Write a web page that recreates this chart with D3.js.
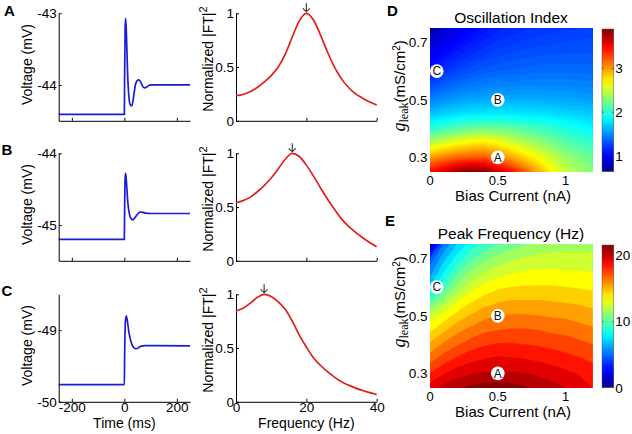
<!DOCTYPE html>
<html>
<head>
<meta charset="utf-8">
<script src="https://cdn.jsdelivr.net/npm/d3@7"></script>
<style>
  body { margin: 0; background: #fff; }
  text { font-family: "Liberation Sans", Arial, sans-serif; }
</style>
</head>
<body>
<svg id="fig" width="632" height="434"></svg>
<script>
// voltage traces (ms, mV)
const timeA = [-250, 0, 1, 3, 5, 8, 12, 17, 23, 29, 35, 42, 49, 55, 62, 70, 78, 88, 100, 250];
const voltA = [-44.41, -44.41, -43.9, -43.2, -43.07, -43.3, -43.8, -44.15, -44.28, -44.29, -44.17, -44.0, -43.94, -43.93, -43.96, -44.02, -44.04, -44.02, -44.0, -44.0];
const timeB = [-250, 0, 1, 3, 5, 8, 13, 20, 27, 33, 40, 50, 60, 67, 80, 100, 250];
const voltB = [-45.2, -45.2, -44.8, -44.35, -44.28, -44.4, -44.68, -44.86, -44.92, -44.93, -44.9, -44.85, -44.82, -44.82, -44.835, -44.84, -44.84];
const timeC = [-250, 0, 1, 4, 7, 11, 17, 25, 35, 46, 60, 80, 250];
const voltC = [-49.76, -49.76, -49.4, -48.88, -48.8, -48.86, -49.02, -49.16, -49.24, -49.26, -49.23, -49.215, -49.22];

const voltDomains = [[-44.5, -43], [-45.5, -44], [-50, -48.5]];
const voltTicks = [[-44, -43], [-45, -44], [-50, -49]];
const timeTicks = [-200, 0, 200];

// normalized power spectra
const freq = [0, 2, 4, 6, 8, 10, 12, 14, 16, 18, 20, 22, 24, 26, 28, 30, 32, 34, 36, 38, 40];
const powerA = [0.234, 0.245, 0.27, 0.31, 0.36, 0.42, 0.5, 0.62, 0.78, 0.93, 1.0, 0.94, 0.8, 0.64, 0.5, 0.39, 0.31, 0.25, 0.21, 0.175, 0.147];
const powerB = [0.54, 0.56, 0.59, 0.64, 0.7, 0.77, 0.855, 0.945, 1.0, 0.97, 0.89, 0.79, 0.68, 0.575, 0.48, 0.39, 0.32, 0.265, 0.215, 0.17, 0.13];
const powerC = [0.845, 0.87, 0.915, 0.97, 1.0, 0.98, 0.93, 0.86, 0.75, 0.62, 0.51, 0.41, 0.34, 0.28, 0.23, 0.186, 0.155, 0.127, 0.105, 0.085, 0.068];
const peakFreq = [20, 16, 8];
const freqTicks = [0, 20, 40];
const powerTicks = [0, 0.5, 1];

// parameter maps: rows go from gleak 0.25 (first) to 0.75 (last)
const biasGrid = [0, 0.1, 0.2, 0.3, 0.4, 0.5, 0.6, 0.7, 0.8, 0.9, 1.0, 1.1, 1.2];
const gleakGrid = [0.25, 0.3, 0.35, 0.4, 0.45, 0.5, 0.55, 0.6, 0.65, 0.7, 0.75];
const oscIndex = [
  [3.45, 3.62, 3.78, 3.9, 3.85, 3.66, 3.45, 3.2, 2.95, 2.7, 2.5, 2.38, 2.3],
  [3.0, 3.08, 3.15, 3.2, 3.2, 3.1, 2.95, 2.8, 2.65, 2.5, 2.35, 2.26, 2.18],
  [2.45, 2.56, 2.65, 2.72, 2.75, 2.68, 2.55, 2.45, 2.35, 2.25, 2.15, 2.08, 2.02],
  [1.98, 2.06, 2.13, 2.19, 2.22, 2.21, 2.17, 2.12, 2.07, 2.01, 1.95, 1.9, 1.85],
  [1.66, 1.72, 1.76, 1.79, 1.8, 1.8, 1.8, 1.79, 1.78, 1.76, 1.74, 1.72, 1.7],
  [1.45, 1.51, 1.55, 1.58, 1.59, 1.6, 1.6, 1.6, 1.6, 1.59, 1.58, 1.57, 1.56],
  [1.28, 1.35, 1.4, 1.43, 1.45, 1.47, 1.47, 1.48, 1.48, 1.48, 1.48, 1.47, 1.46],
  [1.13, 1.21, 1.27, 1.31, 1.34, 1.36, 1.37, 1.38, 1.39, 1.39, 1.39, 1.39, 1.39],
  [1.0, 1.09, 1.16, 1.21, 1.25, 1.28, 1.3, 1.31, 1.32, 1.33, 1.33, 1.33, 1.33],
  [0.88, 0.98, 1.06, 1.12, 1.17, 1.21, 1.23, 1.25, 1.26, 1.27, 1.28, 1.29, 1.29],
  [0.65, 0.86, 0.96, 1.04, 1.1, 1.14, 1.17, 1.19, 1.21, 1.22, 1.23, 1.24, 1.25]
];
const peakFreqMap = [
  [19.5, 20.3, 20.9, 21.2, 21.4, 21.5, 21.4, 21.1, 20.8, 20.4, 20.0, 19.5, 19.0],
  [18.0, 18.9, 19.5, 19.9, 20.1, 20.2, 20.1, 20.0, 19.8, 19.5, 19.2, 18.9, 18.5],
  [16.6, 17.5, 18.2, 18.7, 19.0, 19.2, 19.1, 19.0, 18.8, 18.6, 18.4, 18.1, 17.8],
  [15.2, 16.2, 16.9, 17.5, 17.9, 18.1, 18.1, 18.0, 17.9, 17.7, 17.5, 17.3, 17.0],
  [13.8, 14.8, 15.7, 16.3, 16.8, 17.0, 17.1, 17.1, 17.0, 16.8, 16.7, 16.4, 16.2],
  [12.3, 13.4, 14.4, 15.1, 15.7, 16.0, 16.1, 16.1, 16.0, 15.9, 15.8, 15.6, 15.4],
  [9.8, 11.5, 12.9, 13.9, 14.5, 14.9, 15.1, 15.1, 15.1, 15.0, 14.9, 14.8, 14.6],
  [7.2, 9.4, 11.3, 12.6, 13.3, 13.8, 14.0, 14.1, 14.1, 14.1, 14.0, 13.9, 13.8],
  [5.6, 8.0, 9.9, 11.2, 12.0, 12.6, 12.9, 13.1, 13.2, 13.2, 13.1, 13.1, 13.0],
  [4.2, 6.6, 8.4, 9.8, 10.7, 11.3, 11.8, 12.1, 12.3, 12.4, 12.4, 12.4, 12.3],
  [0.3, 5.0, 7.0, 8.4, 9.3, 9.9, 10.5, 10.9, 11.2, 11.4, 11.5, 11.6, 11.6]
];
const oscRange = [0.64, 3.9];
const freqRange = [0, 21.6];
const oscCbTicks = [1, 2, 3];
const freqCbTicks = [0, 10, 20];
const biasTicks = [0, 0.5, 1];
const gleakTicks = [0.3, 0.5, 0.7];
const markLabels = ["A", "B", "C"];
const markBias = [0.5, 0.5, 0.05];
const markGleak = [0.3, 0.5, 0.6];

const svg = d3.select("#fig");
const FONT = "Liberation Sans, Arial, sans-serif";

// layout
const rowTop = [13.3, 153.3, 294.3];
const rowH = 107.5;
const vL = 58.7, vR = 190;
const fL = 236, fR = 376.7;
const traces = [[timeA, voltA], [timeB, voltB], [timeC, voltC]];
const spectra = [powerA, powerB, powerC];

function styleAxis(g, size) {
  g.attr("font-size", size).attr("font-family", FONT);
  g.select(".domain").attr("stroke", "#000").attr("stroke-width", 1);
  g.selectAll(".tick line").attr("stroke", "#000");
  g.selectAll(".tick text").attr("fill", "#000");
}

for (let i = 0; i < 3; i++) {
  const top = rowTop[i], bot = top + rowH;
  const last = i === 2;

  // voltage panel
  const x = d3.scaleLinear().domain([-250, 250]).range([vL, vR]);
  const y = d3.scaleLinear().domain(voltDomains[i]).range([bot, top]);

  svg.append("g").attr("transform", `translate(0,${bot})`)
    .call(d3.axisBottom(x).tickValues(timeTicks).tickSize(-3).tickSizeOuter(0).tickPadding(1)
      .tickFormat(d => last ? String(d) : ""))
    .call(g => styleAxis(g, 13.5));
  svg.append("g").attr("transform", `translate(${vL},0)`)
    .call(d3.axisLeft(y).tickValues(voltTicks[i]).tickSize(-3).tickSizeOuter(0).tickPadding(2)
      .tickFormat(d => String(d)))
    .call(g => styleAxis(g, 13.5));

  const line = d3.line().x((d, k) => x(traces[i][0][k])).y(d => y(d)).curve(d3.curveMonotoneX);
  svg.append("path").attr("d", line(traces[i][1]))
    .attr("fill", "none").attr("stroke", "#1c1cd6").attr("stroke-width", 1.7);

  svg.append("text")
    .attr("transform", `translate(32,${top + rowH / 2 - 2.5}) rotate(-90)`)
    .attr("text-anchor", "middle").attr("font-size", 14).text("Voltage (mV)");

  // spectrum panel
  const fx = d3.scaleLinear().domain([0, 40]).range([fL, fR]);
  const fy = d3.scaleLinear().domain([0, 1]).range([bot, top]);

  svg.append("g").attr("transform", `translate(0,${bot})`)
    .call(d3.axisBottom(fx).tickValues(freqTicks).tickSize(-3).tickSizeOuter(0).tickPadding(1)
      .tickFormat(d => last ? String(d) : ""))
    .call(g => styleAxis(g, 13.5));
  svg.append("g").attr("transform", `translate(${fL},0)`)
    .call(d3.axisLeft(fy).tickValues(powerTicks).tickSize(-3).tickSizeOuter(0).tickPadding(2)
      .tickFormat(d => String(d)))
    .call(g => styleAxis(g, 13.5));

  const fline = d3.line().x((d, k) => fx(freq[k])).y(d => fy(d)).curve(d3.curveMonotoneX);
  svg.append("path").attr("d", fline(spectra[i]))
    .attr("fill", "none").attr("stroke", "#e01e1e").attr("stroke-width", 1.7);

  const ax = fx(peakFreq[i]);
  svg.append("path")
    .attr("d", `M${ax},${top - 10}V${top - 1.5}M${ax - 3.5},${top - 5}L${ax},${top - 1.5}L${ax + 3.5},${top - 5}`)
    .attr("fill", "none").attr("stroke", "#333").attr("stroke-width", 1.1);

  const ft = svg.append("text")
    .attr("transform", `translate(213,${top + rowH / 2 - 8}) rotate(-90)`)
    .attr("text-anchor", "middle").attr("font-size", 14);
  ft.append("tspan").text("Normalized |FT|");
  ft.append("tspan").attr("dy", -6).attr("font-size", 11).text("2");

  if (last) {
    svg.append("text").attr("x", x(0)).attr("y", 428).attr("text-anchor", "middle")
      .attr("font-size", 14).text("Time (ms)");
    svg.append("text").attr("x", fx(20)).attr("y", 428).attr("text-anchor", "middle")
      .attr("font-size", 14).text("Frequency (Hz)");
  }
}

// panel letters
const letters = [["A", 4, 16], ["B", 1.5, 155], ["C", 1.5, 296], ["D", 387, 16], ["E", 385, 226]];
svg.selectAll("text.letter").data(letters).enter().append("text")
  .attr("class", "letter").attr("x", d => d[1]).attr("y", d => d[2])
  .attr("font-size", 15).attr("font-weight", "bold").text(d => d[0]);

// jet colormap
function jet(domain) {
  const [a, b] = domain;
  return d3.scaleLinear()
    .domain([0, 0.125, 0.375, 0.625, 0.875, 1].map(t => a + t * (b - a)))
    .range(["#00008f", "#0000ff", "#00ffff", "#ffff00", "#ff0000", "#800000"])
    .clamp(true);
}

const hL = 430, hR = 592.7, hH = 143.7;
const xH = d3.scaleLinear().domain([0, 1.2]).range([hL, hR]);
const nx = biasGrid.length, ny = gleakGrid.length;
const gxToBias = d3.scaleLinear().domain([0.5, nx - 0.5]).range([biasGrid[0], biasGrid[nx - 1]]);
const gyToGleak = d3.scaleLinear().domain([0.5, ny - 0.5]).range([gleakGrid[ny - 1], gleakGrid[0]]);

function heatmap(id, top, grid, range, thresholds, half, title, cbTicks) {
  const bot = top + hH;
  const yH = d3.scaleLinear().domain([0.25, 0.75]).range([bot, top]);
  const color = jet(range);

  svg.append("clipPath").attr("id", id).append("rect")
    .attr("x", hL).attr("y", top).attr("width", hR - hL).attr("height", hH);

  // flatten top row first for d3.contours
  const values = [];
  for (let j = ny - 1; j >= 0; j--) for (let k = 0; k < nx; k++) values.push(grid[j][k]);

  const proj = d3.geoTransform({
    point: function (px, py) { this.stream.point(xH(gxToBias(px)), yH(gyToGleak(py))); }
  });
  const path = d3.geoPath(proj);
  const bands = d3.contours().size([nx, ny]).thresholds(thresholds)(values);

  svg.append("g").attr("clip-path", `url(#${id})`)
    .selectAll("path").data(bands).enter().append("path")
    .attr("d", path)
    .attr("fill", d => color(d.value + half))
    .attr("stroke", d => color(d.value + half)).attr("stroke-width", 0.4);

  // axes labels
  svg.selectAll(null).data(biasTicks).enter().append("text")
    .attr("x", d => xH(d)).attr("y", bot + 13).attr("text-anchor", "middle")
    .attr("font-size", 13).text(d => String(d));
  svg.selectAll(null).data(gleakTicks).enter().append("text")
    .attr("x", hL - 2.5).attr("y", d => yH(d)).attr("dy", "0.36em").attr("text-anchor", "end")
    .attr("font-size", 13.5).text(d => String(d));

  svg.append("text").attr("x", 511).attr("y", top - 4.6).attr("text-anchor", "middle")
    .attr("font-size", 15.5).text(title);
  svg.append("text").attr("x", 513).attr("y", bot + 29.5).attr("text-anchor", "middle")
    .attr("font-size", 15).text("Bias Current (nA)");

  const yl = svg.append("text")
    .attr("transform", `translate(405,${top + hH / 2 - 14}) rotate(-90)`)
    .attr("text-anchor", "middle").attr("font-size", 15);
  yl.append("tspan").attr("font-family", "Liberation Serif, serif").attr("font-style", "italic")
    .attr("font-size", 18).text("g");
  yl.append("tspan").attr("font-family", "Liberation Serif, serif").attr("font-size", 12)
    .attr("dy", 3).text("leak");
  yl.append("tspan").attr("dy", -3).text("(mS/cm");
  yl.append("tspan").attr("dy", -5).attr("font-size", 10).text("2");
  yl.append("tspan").attr("dy", 5).text(")");

  // markers
  const mk = svg.append("g").selectAll("g").data(markLabels).enter().append("g")
    .attr("transform", (d, k) => `translate(${xH(markBias[k])},${yH(markGleak[k])})`);
  mk.append("circle").attr("r", 6.8).attr("fill", "#fff");
  mk.append("text").attr("text-anchor", "middle").attr("dy", "0.36em")
    .attr("font-size", 12).attr("fill", "#111").text(d => d);

  // colorbar
  const cbX = 602, cbW = 11.8;
  const cy = d3.scaleLinear().domain(range).range([bot, top + 1]);
  const grad = svg.append("defs").append("linearGradient").attr("id", id + "g")
    .attr("x1", 0).attr("y1", 1).attr("x2", 0).attr("y2", 0);
  d3.range(0, 1.0001, 0.05).forEach(t => {
    grad.append("stop").attr("offset", t).attr("stop-color", color(range[0] + t * (range[1] - range[0])));
  });
  svg.append("rect").attr("x", cbX).attr("y", cy(range[1])).attr("width", cbW)
    .attr("height", cy(range[0]) - cy(range[1]))
    .attr("fill", `url(#${id}g)`).attr("stroke", "#555").attr("stroke-width", 0.5);
  const cbt = svg.append("g").selectAll("g").data(cbTicks).enter().append("g");
  cbt.append("path").attr("d", d => `M${cbX},${cy(d)}h2M${cbX + cbW},${cy(d)}h-2`)
    .attr("stroke", "#333").attr("stroke-width", 0.6);
  cbt.append("text").attr("x", cbX + cbW + 1.5).attr("y", d => cy(d)).attr("dy", "0.36em")
    .attr("font-size", 13.5).text(d => String(d));
}

heatmap("clipD", 28, oscIndex, oscRange, d3.range(0.6, 3.95, 0.04), 0.02, "Oscillation Index", oscCbTicks);
heatmap("clipE", 244, peakFreqMap, freqRange, d3.range(0, 22, 1), 0.5, "Peak Frequency (Hz)", freqCbTicks);
</script>
</body>
</html>
